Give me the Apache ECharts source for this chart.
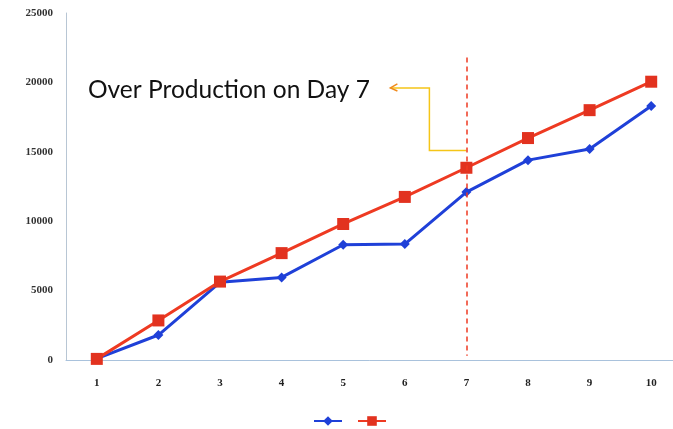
<!DOCTYPE html>
<html>
<head>
<meta charset="utf-8">
<script src="https://cdn.jsdelivr.net/npm/echarts@6/dist/echarts.min.js"></script>
<style>
  html, body { margin: 0; padding: 0; background: #fff; }
  #chart { width: 673px; height: 429px; }
</style>
</head>
<body>
<div id="chart"></div>
<script>
// Daily production figures
const days = ['1', '2', '3', '4', '5', '6', '7', '8', '9', '10'];
const actual = [100, 1800, 5600, 5950, 8300, 8350, 12100, 14400, 15200, 18300];
const planned = [80, 2850, 5650, 7700, 9800, 11750, 13850, 15990, 18000, 20050];
const yTicks = [0, 5000, 10000, 15000, 20000, 25000];
const noteText = 'Over Production on Day 7';
const noteDay = '7';

const chart = echarts.init(document.getElementById('chart'));

chart.setOption({
  backgroundColor: '#ffffff',
  animation: false,
  grid: { left: 66, width: 616, top: 13, bottom: 69, outerBoundsMode: 'none' },
  legend: {
    left: 308, top: 410,
    itemWidth: 28, itemHeight: 12, itemGap: 14,
    formatter: () => '',
    data: ['Actual', 'Planned']
  },
  xAxis: {
    type: 'category',
    data: days,
    boundaryGap: true,
    axisLine: { lineStyle: { color: '#a9c2dc', width: 1 } },
    axisTick: { show: false },
    axisLabel: {
      margin: 18, color: '#222', fontSize: 11,
      fontFamily: 'Liberation Serif', fontWeight: 'bold'
    },
    splitLine: { show: false }
  },
  yAxis: {
    type: 'value',
    min: yTicks[0],
    max: yTicks[yTicks.length - 1],
    interval: yTicks[1] - yTicks[0],
    axisLine: { show: true, lineStyle: { color: '#b8c6d4', width: 1 } },
    axisTick: { show: false },
    axisLabel: {
      margin: 13, color: '#333', fontSize: 11,
      fontFamily: 'Liberation Serif', fontWeight: 'bold',
      formatter: v => String(v)
    },
    splitLine: { show: false }
  },
  series: [
    {
      name: 'Actual',
      type: 'line',
      data: actual,
      symbol: 'diamond',
      symbolSize: 10,
      z: 3,
      itemStyle: { color: '#1f40d8' },
      lineStyle: { color: '#1f40d8', width: 3 }
    },
    {
      name: 'Planned',
      type: 'line',
      data: planned,
      symbol: 'rect',
      symbolSize: 12,
      z: 4,
      itemStyle: { color: '#e2321f' },
      lineStyle: { color: '#ee3a22', width: 3 },
      markLine: {
        silent: true,
        symbol: ['none', 'none'],
        label: { show: false },
        lineStyle: { color: '#ee3a22', type: [5, 4], width: 1.5 },
        data: [[{ coord: [noteDay, 21800] }, { coord: [noteDay, 300] }]]
      }
    }
  ]
});

// Callout text and elbow arrow pointing at the day-7 marker line
const anchorPt = chart.convertToPixel({ xAxisIndex: 0, yAxisIndex: 0 }, [noteDay, 15100]);
const upperPt = chart.convertToPixel({ xAxisIndex: 0, yAxisIndex: 0 }, [noteDay, 19600]);
const ax = anchorPt[0], ay = anchorPt[1], ty = upperPt[1];
const elbowX = ax - 37, tipX = ax - 76;
chart.setOption({
  graphic: [
    {
      type: 'polyline',
      shape: { points: [[ax, ay], [elbowX, ay], [elbowX, ty], [tipX, ty]] },
      style: { stroke: '#f5c518', lineWidth: 1.5, fill: null }
    },
    {
      type: 'polyline',
      shape: { points: [[tipX + 7, ty - 4], [tipX, ty], [tipX + 7, ty + 3]] },
      style: { stroke: '#f08a1c', lineWidth: 1.5, fill: null }
    },
    {
      type: 'text',
      left: 88, top: 78,
      style: {
        text: noteText,
        fontSize: 24.5,
        fontFamily: 'Lato',
        fill: '#111'
      }
    }
  ]
});
</script>
</body>
</html>
